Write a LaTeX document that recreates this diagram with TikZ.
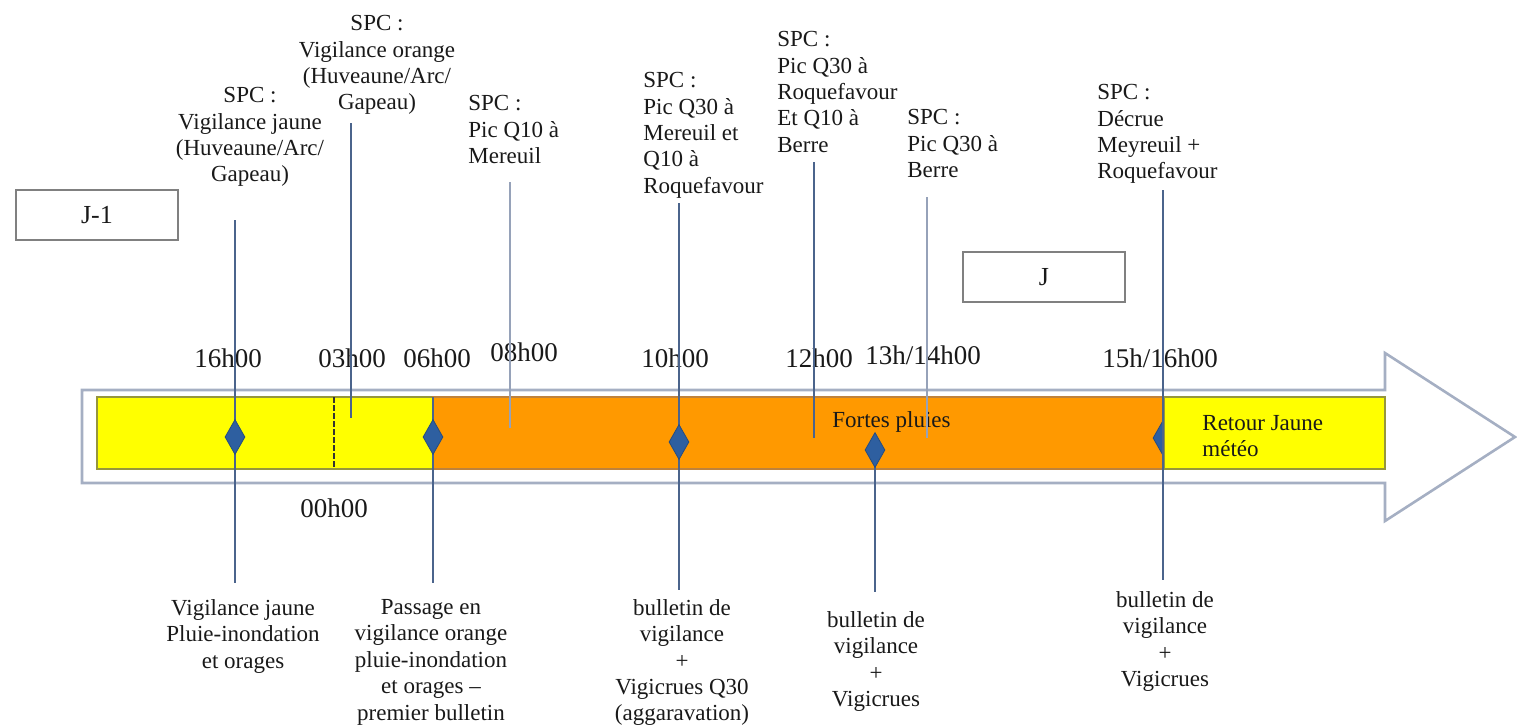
\documentclass[tikz,border=0pt]{standalone}
\usepackage{fontspec}
\setmainfont{Liberation Serif}
\usetikzlibrary{shapes.geometric}

\definecolor{jaune}{RGB}{255,255,0}
\definecolor{orange}{RGB}{255,153,0}
\definecolor{bordjaune}{RGB}{150,150,60}
\definecolor{bordorange}{RGB}{190,130,60}
\definecolor{bleu}{RGB}{46,95,160}
\definecolor{trait}{RGB}{75,100,140}
\definecolor{traitclair}{RGB}{150,162,185}
\definecolor{contour}{RGB}{165,175,195}
\definecolor{texte}{RGB}{25,25,25}

\begin{document}
\begin{tikzpicture}[x=0.5pt, y=-0.5pt,
	every node/.style={font=\fontsize{11.5}{13.2}\selectfont, text=texte, inner sep=0pt},
	heure/.style={font=\fontsize{13.5}{15}\selectfont},
	losange/.style={shape=diamond, fill=bleu, draw=bleu!80!black, line width=0.4pt, minimum width=10pt, minimum height=17.5pt},
	fil/.style={draw=trait, line width=0.9pt},
	filclair/.style={draw=traitclair, line width=0.9pt},
	boite/.style={draw=gray, line width=1pt, minimum width=81pt, minimum height=25pt}]

		\useasboundingbox (0,0) rectangle (1517,728);

		% Draw the big arrow
		\draw[contour, line width=1.3pt, fill=white] (82,390) -- (1385,390) -- (1385,353)
			-- (1515,437) -- (1385,521) -- (1385,483) -- (82,483) -- cycle;

		% Draw the coloured bar
		\draw[fill=jaune, draw=bordjaune, line width=1pt] (97,397) rectangle (433,469);
		\draw[fill=orange, draw=bordorange, line width=1pt] (433,397) rectangle (1163,469);
		\draw[dash pattern=on 3pt off 1pt, line width=0.8pt, draw=black!80] (334,397) -- (334,469);

		\node[losange] (d5) at (1163,438) {};
		\draw[fill=jaune, draw=bordjaune, line width=1pt] (1164,397) rectangle (1385,469);

		\node[anchor=west] (pluies) at (832,422) {Fortes pluies};
		\node[anchor=north west, align=left] (retour) at (1202,415) {Retour Jaune\\météo};

		% Days
		\node[boite] (jmoins) at (97,215) {\fontsize{13}{15}\selectfont J-1};
		\node[boite] (jour) at (1044,277) {\fontsize{13}{15}\selectfont J};

		% Hours
		\node[heure] (h16) at (228,358) {16h00};
		\node[heure] (h03) at (352,358) {03h00};
		\node[heure] (h06) at (437,358) {06h00};
		\node[heure] (h08) at (524,352) {08h00};
		\node[heure] (h10) at (675,358) {10h00};
		\node[heure] (h12) at (819,358) {12h00};
		\node[heure] (h13) at (923,355) {13h/14h00};
		\node[heure] (h15) at (1160,358) {15h/16h00};
		\node[heure] (h00) at (334,508) {00h00};

		% SPC labels above
		\node[anchor=north, align=center] (spc1) at (250,87) {SPC :\\Vigilance jaune\\(Huveaune/Arc/\\Gapeau)};
		\node[anchor=north, align=center] (spc2) at (377,15) {SPC :\\Vigilance orange\\(Huveaune/Arc/\\Gapeau)};
		\node[anchor=north west, align=left] (spc3) at (468,95) {SPC :\\Pic Q10 à\\Mereuil};
		\node[anchor=north west, align=left] (spc4) at (643,72) {SPC :\\Pic Q30 à\\Mereuil et\\Q10 à\\Roquefavour};
		\node[anchor=north west, align=left] (spc5) at (777,31) {SPC :\\Pic Q30 à\\Roquefavour\\Et Q10 à\\Berre};
		\node[anchor=north west, align=left] (spc6) at (907,109) {SPC :\\Pic Q30 à\\Berre};
		\node[anchor=north west, align=left] (spc7) at (1097,84) {SPC :\\Décrue\\Meyreuil +\\Roquefavour};

		% Vigilance labels below
		\node[anchor=north, align=center] (vig1) at (243,599) {Vigilance jaune\\Pluie-inondation\\et orages};
		\node[anchor=north, align=center] (vig2) at (431,599) {Passage en\\vigilance orange\\pluie-inondation\\et orages –\\premier bulletin};
		\node[anchor=north, align=center] (vig3) at (682,599) {bulletin de\\vigilance\\+\\Vigicrues Q30\\(aggaravation)};
		\node[anchor=north, align=center] (vig4) at (876,611) {bulletin de\\vigilance\\+\\Vigicrues};
		\node[anchor=north, align=center] (vig5) at (1165,591) {bulletin de\\vigilance\\+\\Vigicrues};

		% Ends of the vertical lines
		\coordinate (t1) at (235,220);
		\coordinate (b1) at (235,583);
		\coordinate (t2) at (351,123);
		\coordinate (b2) at (351,418);
		\coordinate (t3) at (510,182);
		\coordinate (b3) at (510,428);
		\coordinate (t4) at (433,397);
		\coordinate (b4) at (433,583);
		\coordinate (t5) at (679,203);
		\coordinate (b5) at (679,590);
		\coordinate (t6) at (814,162);
		\coordinate (b6) at (814,438);
		\coordinate (t7) at (927,197);
		\coordinate (b7) at (927,438);
		\coordinate (t8) at (875,450);
		\coordinate (b8) at (875,592);
		\coordinate (t9) at (1163,190);
		\coordinate (b9) at (1163,580);

		% Draw the vertical lines
		\draw[fil] (t1) -- (b1);
		\draw[fil] (t2) -- (b2);
		\draw[filclair] (t3) -- (b3);
		\draw[fil] (t4) -- (b4);
		\draw[fil] (t5) -- (b5);
		\draw[fil] (t6) -- (b6);
		\draw[filclair] (t7) -- (b7);
		\draw[fil] (t8) -- (b8);
		\draw[fil] (t9) -- (b9);

		% Draw the diamonds
		\node[losange] (d1) at (235,437) {};
		\node[losange] (d2) at (433,437) {};
		\node[losange] (d3) at (679,442) {};
		\node[losange] (d4) at (875,450) {};

	\end{tikzpicture}
\end{document}
